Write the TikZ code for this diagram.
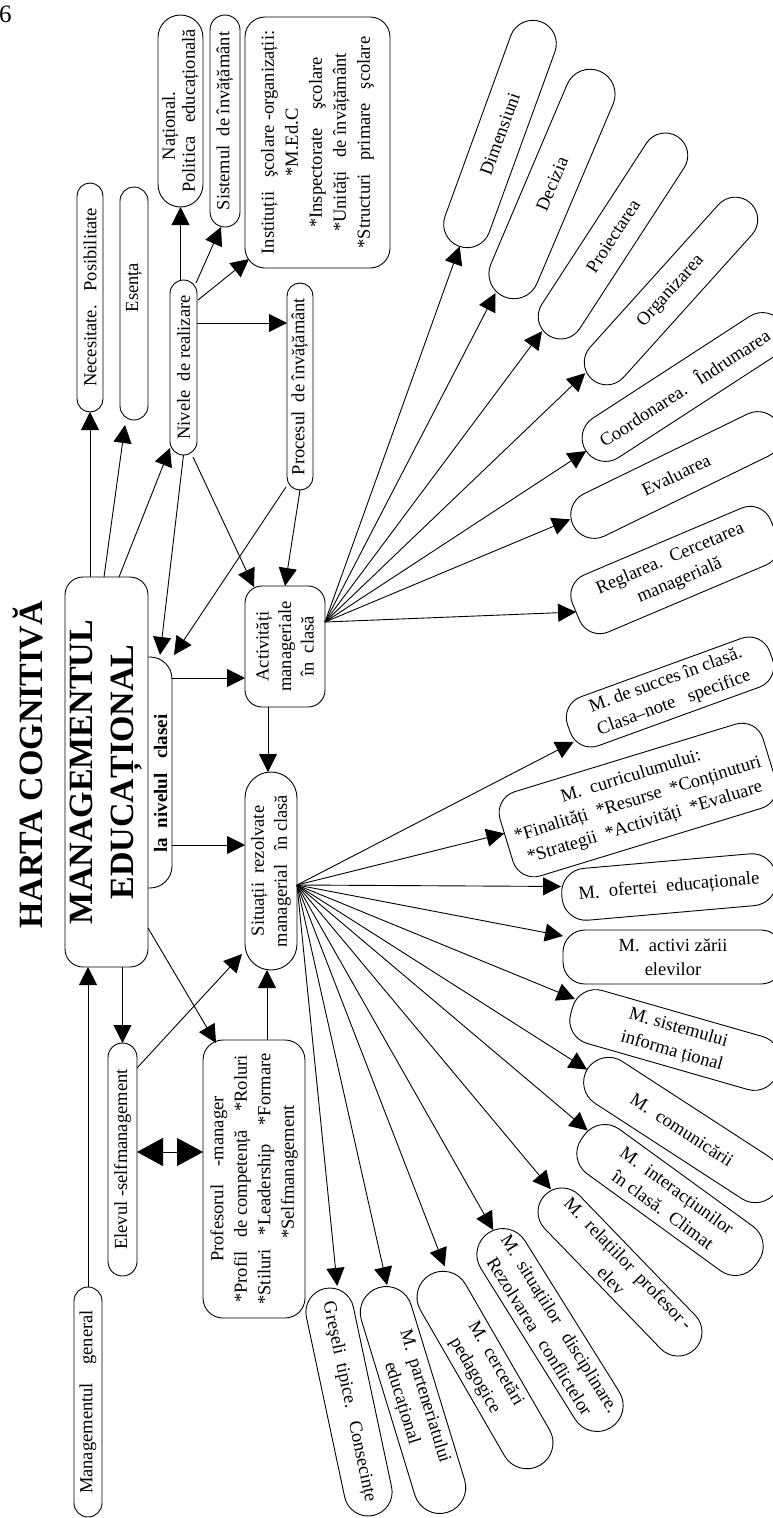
\documentclass[tikz,border=0pt]{standalone}
\usepackage{fontspec}
\setmainfont{Liberation Serif}
\usetikzlibrary{arrows.meta,calc}
\begin{document}
\begin{tikzpicture}[x=1pt,y=-1pt,
  every node/.style={inner sep=0pt, outer sep=0pt},
  bx/.style={draw, line width=0.9pt, fill=white, align=center, font=\fontsize{18.5}{24}\selectfont},
  pill/.style n args={4}{bx, rotate=#1, minimum width=#2, minimum height=#3, rounded corners=#4},
  arr/.style={line width=0.9pt, -{Triangle[length=18pt,width=18pt]}},
  dbl/.style={line width=0.9pt, {Triangle[length=26pt,width=28pt]}-{Triangle[length=26pt,width=28pt]}},
]
\useasboundingbox (0,0) rectangle (773,1518);

\node[anchor=base west, font=\fontsize{25}{28}\selectfont] (pg) at (-1,22) {6};
\node[rotate=90, anchor=base, font=\bfseries\fontsize{34}{40}\selectfont] (title) at (42,765) {HARTA COGNITIVĂ};

% left column
\node[pill={90}{231}{48}{22}] (lanv) at (148,772.5) {};
\node[bx, rotate=90, minimum width=390, minimum height=83, rounded corners=18, font=\bfseries\fontsize{34}{41}\selectfont] (main) at (106.5,772) {MANAGEMENTUL\\EDUCAȚIONAL};
\node[rotate=90, anchor=base, font=\bfseries\fontsize{19}{24}\selectfont] (lanvT) at (167,783.5) {la\ \ nivelul\ \ \ clasei};

\node[pill={90}{229}{26}{13}] (nec) at (90,297.5) {Necesitate.\ \ \ Posibilitate};
\node[pill={90}{233}{28}{14}] (esen) at (134,303.5) {\hspace{32pt}Esența};
\node[pill={90}{175}{27}{13.5}] (niv) at (183.5,367.5) {Nivele\ \ de realizare};
\node[pill={90}{192}{45}{22.5}, font=\fontsize{18.5}{20}\selectfont] (nat) at (180.5,111) {Național.\rule{30pt}{0pt}\\Politica\ \ \ educațională};
\node[pill={90}{212}{30}{15}] (sis) at (225,121) {Sistemul\ \ de învățământ};
\node[bx, rotate=90, minimum width=251, minimum height=145, rounded corners=20] (inst) at (317.5,142.5) {Instituții\ \ \ şcolare -organizații:\\*M.Ed.C\\*Inspectorate\ \ \ \ şcolare\\*Unități\ \ \ de învățământ\\*Structuri\ \ \ primare\ \ \ şcolare};
\node[pill={90}{207}{26}{13}] (proc) at (300,386.5) {Procesul\ \ de învățământ};
\node[bx, rotate=90, minimum width=121, minimum height=80, rounded corners=17, font=\fontsize{18.5}{22.5}\selectfont] (act) at (285,646.5) {Activități\\manageriale\\în\ \ clasă};
\node[pill={90}{198}{52}{26}, font=\fontsize{18.5}{23}\selectfont] (sit) at (271,871) {Situații\ \ rezolvate\\managerial\ \ \ în clasă};
\node[pill={90}{233}{29}{14.5}] (elev) at (122.5,1159.5) {Elevul -selfmanagement};
\node[bx, rotate=90, minimum width=278, minimum height=102, rounded corners=20, font=\fontsize{18.5}{23.5}\selectfont] (prof) at (254,1179) {Profesorul\ \ \ \ -manager\\*Profil\ \ \ de competență\ \ \ \ *Roluri\\*Stiluri\ \ \ *Leadership\ \ \ \ *Formare\\\rule{14pt}{0pt}*Selfmanagement};
\node[pill={90}{230}{28}{14}] (mgen) at (88,1402) {Managementul\ \ \ \ general};

% fan 1
\node[pill={70}{239}{47}{23.5}] (dim) at (500,134) {Dimensiuni};
\node[pill={67}{245}{50}{25}] (dec) at (552,184) {Decizia};
\node[pill={57}{237}{45}{22.5}] (pro) at (613,236) {Proiectarea};
\node[pill={48}{237}{45}{22.5}] (org) at (671,291) {Organizarea};
\node[pill={33}{234}{47}{23.5}] (coo) at (684,387) {Coordonarea.\ \ \ Îndrumarea};
\node[pill={26}{229}{47}{23.5}] (eva) at (676,475) {Evaluarea};
\node[pill={23}{215}{62}{22}] (reg) at (675,570) {Reglarea.\ \ Cercetarea\\managerială};

% fan 2
\node[pill={20}{215}{52}{22}] (suc) at (670,692) {M.\ de succes\ în clasă.\\Clasa–note\ \ \ specifice};
\node[bx, rotate=17, minimum width=275, minimum height=88, rounded corners=22] (cur) at (638,800) {M.\ \ curriculumului:\\*Finalități\ \ *Resurse\ \ *Conținuturi\\*Strategii\ \ *Activități\ \ *Evaluare};
\node[pill={5}{215}{52}{24}] (ofe) at (669,887) {M.\ \ ofertei\ \ educaționale};
\node[pill={0}{220}{54}{22}] (acz) at (673,957) {M.\ \ activi zării\\elevilor};
\node[pill={-16}{215}{55}{24}] (sist) at (675,1040) {M.\ sistemului\\informa\ țional};
\node[pill={-33}{225}{50}{25}] (com) at (682,1130) {M.\ \ comunicării};
\node[pill={-36}{215}{55}{25}] (int) at (670,1200) {M.\ \ interacțiunilor\\în clasă.\ \ Climat};
\node[pill={-46}{215}{48}{24}] (rel) at (620,1272) {M.\ \ relațiilor\ \ profesor\ -\\elev};
\node[pill={-58}{230}{52}{26}] (sitd) at (550,1330) {M.\ \ situațiilor\ \ \ disciplinare.\\Rezolvarea\ \ \ conflictelor};
\node[pill={-60}{220}{52}{26}] (cer) at (485,1370) {M.\ \ cercetări\\pedagogice};
\node[pill={-73}{235}{52}{26}] (par) at (413,1400) {M.\ \ parteneriatului\\educațional};
\node[pill={-78}{232}{48}{24}] (gre) at (349,1402) {Greşeli\ \ tipice.\ \ \ Consecințe};

% connectors
\draw[arr] (nec.west |- main.east) -- (nec.west);
\draw[arr] ($(main.east)+(-2.5,0)$) -- ($(esen.west)+(-9,5)$);
\draw[arr] ($(main.east)+(12.5,0)$) -- ($(niv.north west)+(0,-7)$);
\draw[arr] (nat.west |- niv.east) -- (nat.west);
\draw[arr] ($(niv.south east)+(-1,3)$) -- ($(sis.west)+(-4,0)$);
\draw[arr] ($(niv.south east)+(1,20)$) -- ($(inst.north west)+(4,-9)$);
\coordinate (p7) at ($(proc.north)+(0,-63.5)$);
\draw[arr] (niv.south |- p7) -- (p7);
\draw[arr] (niv.west) -- ($(lanv.east)+(12,-2)$);
\draw[arr] ($(niv.south west)+(-4,2)$) -- ($(act.north east)+(9,1)$);
\draw[arr] ($(proc.north west)+(-1,-3)$) -- ($(lanv.south east)+(2,-2)$);
\draw[arr] (proc.west) -- (act.east);
\coordinate (p12) at ($(act.north)+(0,31.5)$);
\draw[arr] (lanv.south |- p12) -- (p12);
\coordinate (p13) at ($(sit.east)+(-3,0)$);
\draw[arr] (p13 |- act.west) -- (p13);
\coordinate (p14) at ($(sit.north)+(0,-26)$);
\draw[arr] (lanv.south |- p14) -- (p14);
\draw[arr] (elev.east |- main.west) -- (elev.east);
\draw[arr] ($(main.south west)+(0,-39)$) -- ($(prof.north east)+(13,3)$);
\coordinate (p17) at ($(prof.north)+(0,-27)$);
\draw[dbl] (elev.south |- p17) -- (p17);
\draw[arr] ($(elev.south east)+(0,25)$) -- ($(sit.north west)+(-3,-16)$);
\coordinate (p19) at ($(sit.west)+(-4,0)$);
\draw[arr] (p19 |- prof.east) -- (p19);
\draw[arr] (mgen.east) -- (mgen.east |- main.west);

\coordinate (actF) at ($(act.south)+(0,-24.5)$);
\coordinate (sitF) at ($(sit.south)+(0,14)$);
\foreach \t in {dim,dec,pro,org,coo,eva} \draw[arr] (actF) -- (\t);
\draw[arr] (actF) -- (reg.west);
\foreach \t in {suc,cur,ofe,acz,sist,com,int,rel,sitd,cer,par,gre} \draw[arr] (sitF) -- (\t);
\end{tikzpicture}
\end{document}
